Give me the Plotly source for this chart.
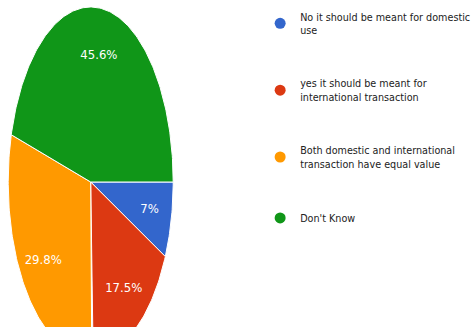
import numpy as np
import plotly.graph_objects as go

# Survey answers, shares in percent (clockwise from 3 o'clock)
labels = [
    "No it should be meant for domestic<br>use",
    "yes it should be meant for<br>international transaction",
    "Both domestic and international<br>transaction have equal value",
    "Don't Know",
]
shares = [7, 17.5, 29.8, 45.6]
share_text = ["7%", "17.5%", "29.8%", "45.6%"]
colors = ["#3366cc", "#dc3912", "#ff9900", "#109618"]

W, H = 473, 327
FONT = "DejaVu Sans Condensed, DejaVu Sans, sans-serif"

# pie centre / radii in pixels; slices are drawn on a unit circle in data space
cx_px, cy_px, rx_px, ry_px = 90.7, 182.0, 82.5, 175.0
x_range = [(0 - cx_px) / rx_px, (W - cx_px) / rx_px]
y_range = [(cy_px - H) / ry_px, (cy_px - 0) / ry_px]

fig = go.Figure()

total = float(sum(shares))
start = 0.0
for i, (name, v, txt, col) in enumerate(zip(labels, shares, share_text, colors)):
    a0 = -start / total * 2 * np.pi
    a1 = -(start + v) / total * 2 * np.pi
    t = np.linspace(a0, a1, max(8, int(abs(a1 - a0) * 60)))
    xs = np.concatenate([[0], np.cos(t), [0]])
    ys = np.concatenate([[0], np.sin(t), [0]])
    fig.add_trace(go.Scatter(
        x=xs, y=ys, mode="lines", fill="toself", fillcolor=col,
        line=dict(color="white", width=1), hoverinfo="skip",
        showlegend=False, legendgroup=f"g{i}",
    ))
    mid = (a0 + a1) / 2
    r = 0.73
    fig.add_trace(go.Scatter(
        x=[r * np.cos(mid)], y=[r * np.sin(mid)], mode="text", text=[txt],
        textfont=dict(color="white", size=13, family=FONT),
        hoverinfo="skip", showlegend=False,
    ))
    # legend entry with a round swatch
    fig.add_trace(go.Scatter(
        x=[None], y=[None], mode="markers", name=name, legendgroup=f"g{i}",
        marker=dict(symbol="circle", size=11, color=col),
    ))
    start += v

fig.update_layout(
    width=W, height=H,
    margin=dict(l=0, r=0, t=0, b=0, autoexpand=False),
    paper_bgcolor="white", plot_bgcolor="white",
    xaxis=dict(range=x_range, visible=False, fixedrange=True),
    yaxis=dict(range=y_range, visible=False, fixedrange=True),
    legend=dict(
        x=0.55, y=0.991, xanchor="left", yanchor="top",
        bgcolor="rgba(0,0,0,0)",
        font=dict(size=10.7, color="#222222", family=FONT),
        tracegroupgap=36,
        itemclick=False, itemdoubleclick=False,
    ),
    showlegend=True,
)

fig.write_html("out.html")
